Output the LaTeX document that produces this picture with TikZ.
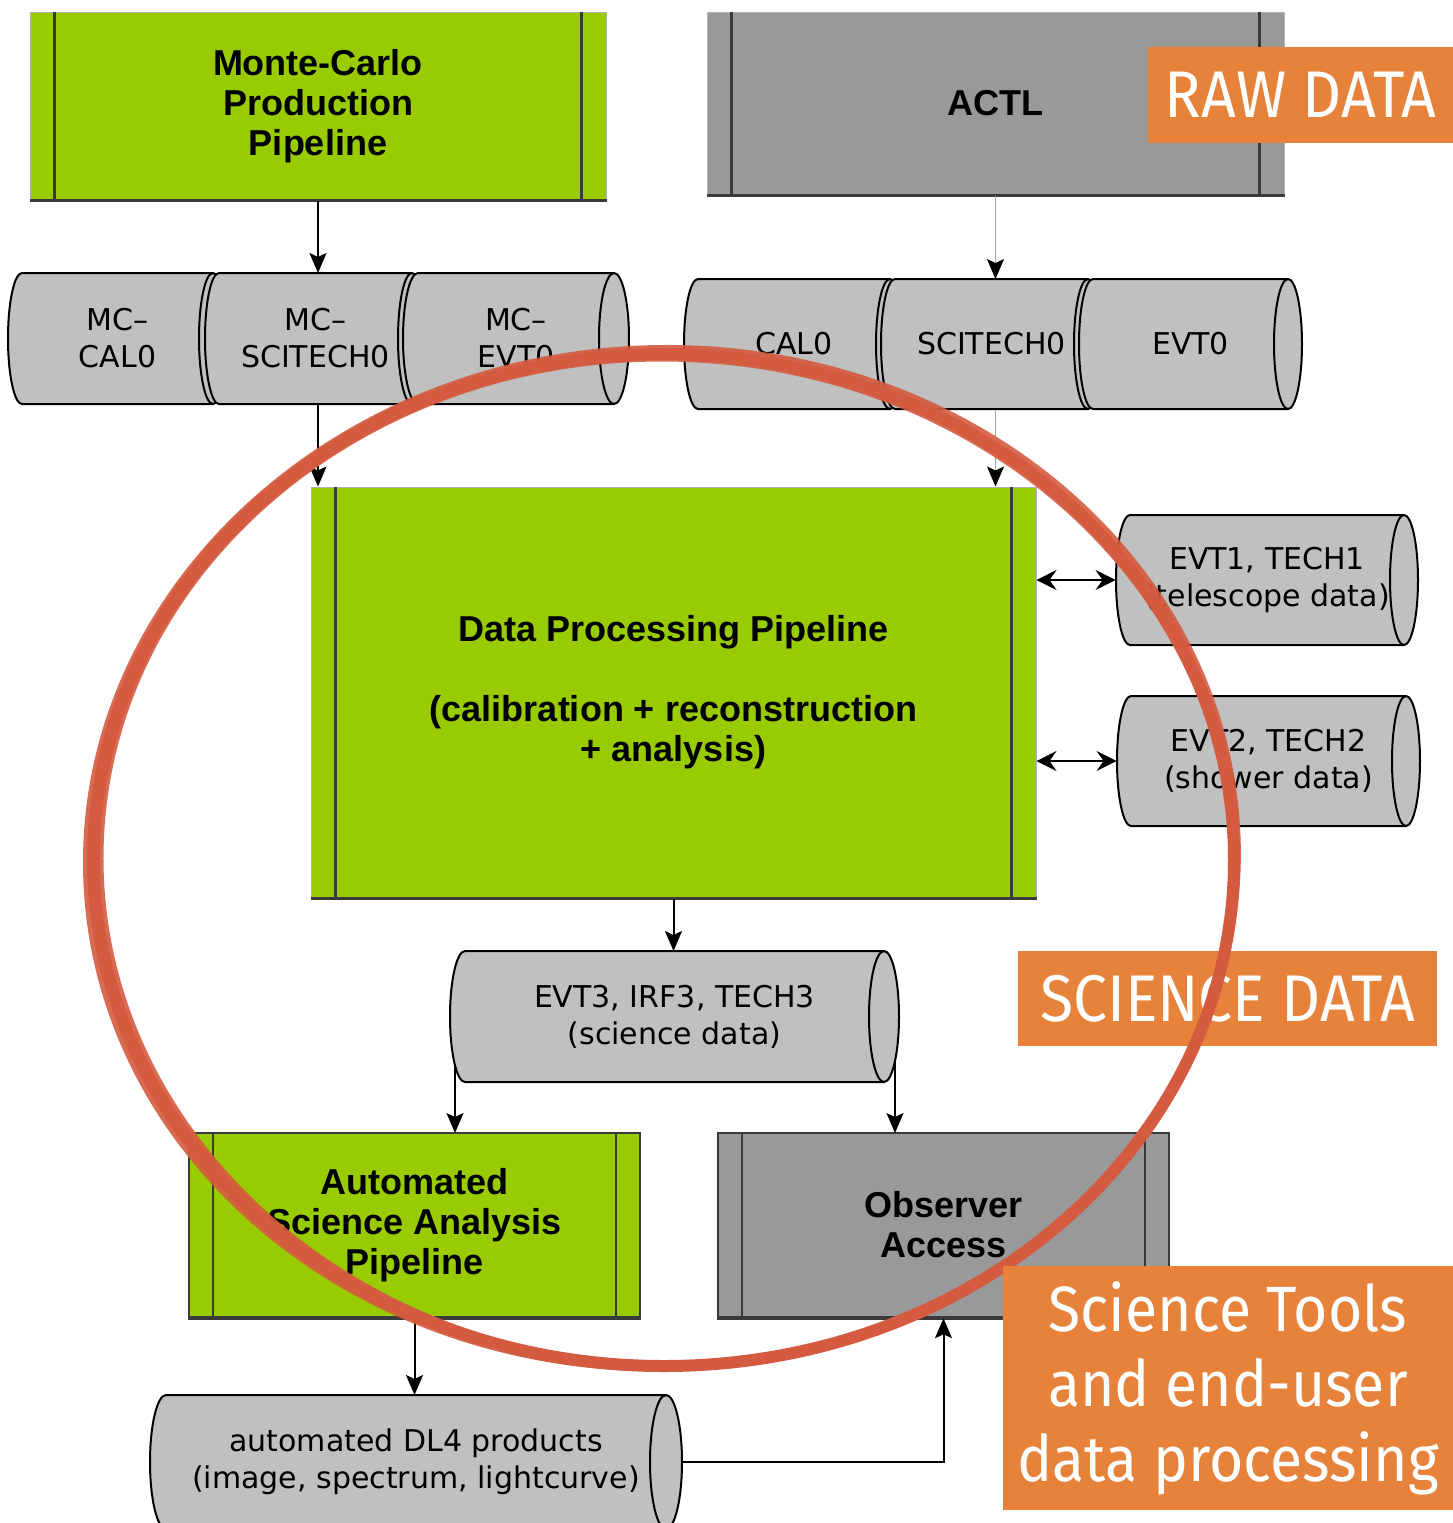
\documentclass[tikz,border=0pt]{standalone}
\usepackage{fontspec}
\setmainfont{Liberation Sans}
\newfontfamily\drumfont{DejaVu Sans}
\newfontfamily\tagfont[FakeStretch=0.92]{Fira Sans}
\usetikzlibrary{arrows.meta,calc}

\definecolor{procgreen}{HTML}{99CC00}
\definecolor{procgray}{HTML}{999999}
\definecolor{drumgray}{HTML}{C0C0C0}
\definecolor{tagorange}{HTML}{E6823A}
\definecolor{brushred}{HTML}{D45B3F}
\definecolor{edgegray}{HTML}{3A3A3A}

\tikzset{
  procbox/.style={rectangle, inner sep=0pt, align=center,
    font=\fontsize{18}{20}\selectfont\bfseries},
  softedge/.style={draw=gray!60, line width=0.5pt},
  hardedge/.style={draw=edgegray, line width=1.2pt},
  innerline/.style={draw=edgegray, line width=1.2pt},
  boxfoot/.style={draw=edgegray, line width=1.4pt},
  drumshape/.style={fill=drumgray, draw=black, line width=1pt},
  drumline/.style={draw=black, line width=1pt},
  drumtext/.style={rectangle, inner sep=0pt, align=center,
    font=\drumfont\fontsize{15}{18.5}\selectfont},
  flow/.style={draw=black, line width=1pt,
    -{Stealth[length=10pt,width=8.5pt,inset=2pt]}},
  faintflow/.style={draw=gray!70, line width=0.5pt,
    -{Stealth[length=10pt,width=8.5pt,inset=2pt,color=black]}},
  twoway/.style={draw=black, line width=1pt,
    {Stealth[length=10pt,width=10pt,inset=3.5pt]}-{Stealth[length=10pt,width=10pt,inset=3.5pt]}},
  tag/.style={rectangle, fill=tagorange, text=white, inner sep=0pt, align=center,
    font=\tagfont\fontsize{33}{37.5}\selectfont},
  brush/.style={draw=brushred, line cap=round},
}

% process box with two inner vertical bars: name, style, left, top, right, bottom, text
\newcommand\procnode[7]{%
  \node[procbox,#2,minimum width={(#5-#3)*0.5pt},minimum height={(#6-#4)*0.5pt}]
    (#1) at ({(#3+#5)/2},{(#4+#6)/2}) {#7};
  \draw[innerline] ([xshift=12.5pt]#1.north west) -- ([xshift=12.5pt]#1.south west);
  \draw[innerline] ([xshift=-12.5pt]#1.north east) -- ([xshift=-12.5pt]#1.south east);
  \draw[boxfoot] (#1.south west) -- (#1.south east);
}

% horizontal storage drum: name, left, right, top, bottom, end radius, text
\newcommand\drum[7]{%
  \pgfmathsetmacro\drumhh{(#5-#4)/2}
  \filldraw[drumshape] (#2,#4) -- (#3,#4)
    arc[start angle=-90,end angle=90,x radius=#6,y radius=\drumhh]
    -- (#2,#5)
    arc[start angle=90,end angle=270,x radius=#6,y radius=\drumhh] -- cycle;
  \draw[drumline] (#3,#4) arc[start angle=270,end angle=90,x radius=#6,y radius=\drumhh];
  \node[drumtext,minimum width={(#3-#2+2*#6)*0.5pt},minimum height={(#5-#4)*0.5pt}]
    (#1) at ({(#2+#3)/2},{(#4+#5)/2}) {#7};
}

\begin{document}
\begin{tikzpicture}[x=0.5pt,y=-0.5pt]
\useasboundingbox (0,0) rectangle (1453,1523);
\clip (0,0) rectangle (1453,1523);

% ---- process boxes
\procnode{mcprod}{fill=procgreen,softedge}{30}{12}{606}{200}{Monte-Carlo\\Production\\Pipeline}
\procnode{actl}{fill=procgray,softedge}{707}{12}{1284}{195}{ACTL}
\procnode{dpp}{fill=procgreen,softedge}{311}{487}{1036}{898}%
  {Data Processing Pipeline\\[20pt](calibration + reconstruction\\+ analysis)}
\procnode{asap}{fill=procgreen,hardedge}{189}{1133}{640}{1317}{Automated\\Science Analysis\\Pipeline}
\procnode{obs}{fill=procgray,hardedge}{718}{1133}{1169}{1317}{Observer\\Access}

% ---- connectors (drawn below the drums)
\draw[flow] (mcprod.south) -- (mcprod.south |- 0,273);
\draw[flow] (mcprod.south |- 0,404) -- (mcprod.south |- dpp.north);
\draw[faintflow] (actl.south) -- (actl.south |- 0,279);
\draw[faintflow] (actl.south |- 0,409) -- (actl.south |- dpp.north);
\draw[flow] (dpp.south) -- (dpp.south |- 0,951);
\draw[flow] (455,1016) -- (455,1133);
\draw[flow] (895,1016) -- (895,1133);
\draw[flow] (asap.south) -- (asap.south |- 0,1395);

% ---- Monte-Carlo drums
\drum{mccal}{22}{213}{273}{404}{14}{MC–\\CAL0}
\drum{mcsci}{219}{412}{273}{404}{14}{MC–\\SCITECH0}
\drum{mcevt}{418}{614}{273}{404}{15}{MC–\\EVT0}

% ---- raw data drums
\drum{cal}{698}{890}{279}{409}{14}{CAL0}
\drum{sci}{895}{1088}{279}{409}{14}{SCITECH0}
\drum{evt}{1093}{1288}{279}{409}{14}{EVT0}

% ---- level 1/2 drums
\drum{evtone}{1130}{1404}{515}{645}{14}{EVT1, TECH1\\(telescope data)}
\drum{evttwo}{1131}{1406}{696}{826}{14}{EVT2, TECH2\\(shower data)}

% ---- science data drum
\drum{evtthree}{465}{884}{951}{1082}{15}{EVT3, IRF3, TECH3\\(science data)}

% ---- DL4 drum
\drum{dlfour}{166}{666}{1395}{1529}{16}{automated DL4 products\\(image, spectrum, lightcurve)}

% ---- remaining connectors
\draw[twoway] (dpp.east |- evtone.west) -- (evtone.west);
\draw[twoway] (dpp.east |- evttwo.west) -- (evttwo.west);
\draw[flow] (dlfour.east) -| (obs.south);

% ---- orange tags
\node[tag,minimum width=152.5pt,minimum height=48pt] (rawtag) at (1300.5,95) {RAW DATA};
\node[tag,minimum width=209.5pt,minimum height=47.5pt] (scitag) at (1227.5,998.5) {SCIENCE DATA};

% ---- brushed ring, heavier on the left side
\draw[brush, line width=6pt] (664,860) ellipse [x radius=570, y radius=506];
\begin{scope}[rotate around={2:(664,860)}]
  \draw[brush, line width=3pt, opacity=0.9] (662,858) ellipse [x radius=576, y radius=510];
\end{scope}
\begin{scope}[rotate around={-2:(664,860)}]
  \draw[brush, line width=2.5pt, opacity=0.9] (667,862) ellipse [x radius=566, y radius=503];
\end{scope}
\draw[brush, line width=3pt, opacity=0.9]
  (664,860) ++(120:574 and 510) arc[start angle=120, end angle=245, x radius=574, y radius=510];

\node[tag,minimum width=225pt,minimum height=122pt,font=\tagfont\fontsize{32}{37.5}\selectfont]
  (tooltag) at (1228,1388) {Science Tools\\and end-user\\data processing};
\end{tikzpicture}
\end{document}
